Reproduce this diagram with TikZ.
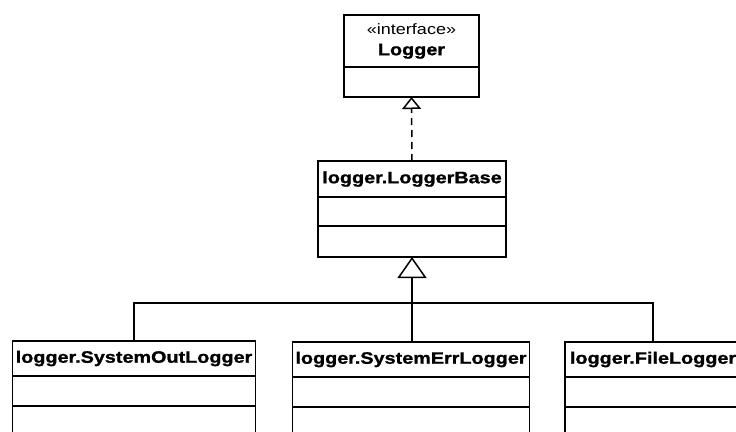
\documentclass[tikz,border=0pt]{standalone}
\usepackage{fontspec}
\setmainfont{Liberation Sans}
\newfontfamily\umlfont[FakeStretch=1.2, BoldFeatures={FakeBold=1.2}]{Liberation Sans}
\usetikzlibrary{arrows.meta, positioning}

\begin{document}
\begin{tikzpicture}[
    x=1pt, y=-1pt,
    line width=1.5pt,
    every node/.style={rectangle, draw, inner sep=0pt, outer sep=0pt,
        font=\umlfont\bfseries\fontsize{16.5}{18}\selectfont},
    realize/.style={dash pattern=on 7pt off 5pt, -{Triangle[open, length=12pt, width=19pt]}},
    inherit/.style={-{Triangle[open, length=21pt, width=29pt]}}
]
\useasboundingbox (0,0) rectangle (736,431);
\clip (0,0) rectangle (736,431);

\node (logger) [minimum width=135pt, minimum height=52pt, align=center] at (411.5,41)
    {{\mdseries\fontsize{15}{15}\selectfont «interface»}\\[3pt]Logger};
\node (logger-ops) [minimum width=135pt, minimum height=30pt, below=0pt of logger] {};

\node (base) [minimum width=188pt, minimum height=36pt] at (412,179) {logger.LoggerBase};
\node (base-attr) [minimum width=188pt, minimum height=29pt, below=0pt of base] {};
\node (base-ops) [minimum width=188pt, minimum height=31pt, below=0pt of base-attr] {};

\node (sout) [minimum width=243pt, minimum height=35pt] at (134,358.5) {logger.SystemOutLogger};
\node (sout-attr) [minimum width=243pt, minimum height=30pt, below=0pt of sout] {};
\node (sout-ops) [minimum width=243pt, minimum height=64pt, below=0pt of sout-attr] {};

\node (serr) [minimum width=237pt, minimum height=35pt] at (411,359.5) {logger.SystemErrLogger};
\node (serr-attr) [minimum width=237pt, minimum height=30pt, below=0pt of serr] {};
\node (serr-ops) [minimum width=237pt, minimum height=64pt, below=0pt of serr-attr] {};

\node (flog) [minimum width=176pt, minimum height=35pt] at (653,359.5) {logger.FileLogger};
\node (flog-attr) [minimum width=176pt, minimum height=30pt, below=0pt of flog] {};
\node (flog-ops) [minimum width=176pt, minimum height=64pt, below=0pt of flog-attr] {};

\coordinate (join) at (412,303);

\draw [realize] (base.north) -- (logger-ops.south);
\draw [inherit] (join) -- (base-ops.south);
\draw (sout.north) |- (join) -| (flog.north);
\draw (serr.north -| join) -- (join);

\end{tikzpicture}
\end{document}
